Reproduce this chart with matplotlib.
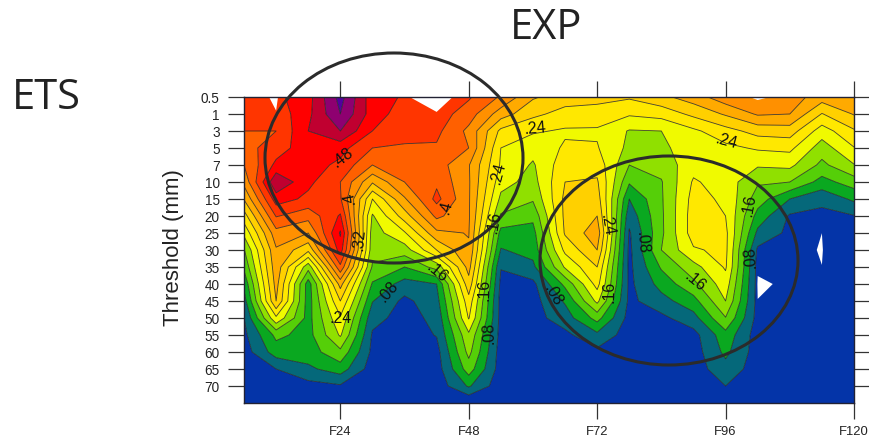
import numpy as np
import matplotlib
matplotlib.use('Agg')
import matplotlib.pyplot as plt
from matplotlib.patches import Ellipse

plt.rcParams['font.family'] = ['Liberation Sans', 'DejaVu Sans']

# threshold labels, the last data row below 70 has no label
thresholds = ['0.5', '1', '3', '5', '7', '10', '15', '20', '25', '30', '35', '40', '45', '50', '55', '60', '65', '70']
fcst_hours = [6, 12, 18, 24, 30, 36, 42, 48, 54, 60, 66, 72, 78, 84, 90, 96, 102, 108, 114, 120]
xtick_hours = [24, 48, 72, 96, 120]
xtick_labels = ['F24', 'F48', 'F72', 'F96', 'F120']

# ETS per forecast hour, top row to bottom row
f006 = [.46, .455, .44, .425, .40, .372, .323, .262, .21, .157, .128, .09, .063, .04, .03, .02, .02, .015, .01]
f012 = [.47, .455, .44, .46, .49, .555, .50, .443, .385, .355, .345, .335, .32, .232, .13, .10, .04, .03, .02]
f018 = [.505, .51, .52, .505, .50, .49, .47, .415, .36, .29, .175, .10, .10, .105, .105, .10, .072, .025, .015]
f024 = [.615, .60, .56, .495, .47, .44, .445, .485, .525, .50, .43, .335, .28, .235, .205, .15, .10, .035, .02]
f030 = [.496, .50, .48, .44, .40, .325, .24, .195, .18, .175, .155, .115, .082, .053, .035, .03, .02, .015, .01]
f036 = [.476, .46, .455, .435, .415, .40, .355, .30, .235, .18, .12, .063, .03, .025, .02, .02, .015, .01, .01]
f042 = [.47, .46, .45, .435, .42, .432, .452, .41, .35, .28, .175, .08, .065, .05, .042, .025, .02, .015, .01]
f048 = [.445, .42, .39, .40, .363, .365, .365, .365, .362, .355, .335, .305, .265, .243, .192, .172, .14, .085, 0.0]
f054 = [.395, .34, .27, .24, .235, .215, .19, .155, .105, .077, .042, .03, .025, .025, .025, .02, .02, .015, .01]
f060 = [.325, .29, .245, .215, .195, .185, .165, .13, .105, .095, .07, .03, .025, .025, .02, .02, .02, .015, .01]
f066 = [.30, .265, .235, .245, .265, .28, .29, .29, .285, .25, .205, .13, .085, .06, .03, .02, .02, .015, .01]
f072 = [.295, .26, .235, .243, .265, .285, .30, .32, .345, .32, .28, .255, .21, .135, .07, .03, .02, .015, .01]
f078 = [.285, .245, .197, .19, .16, .125, .08, .055, .035, .03, .03, .03, .03, .025, .02, .02, .02, .015, .01]
f084 = [.31, .255, .20, .19, .175, .157, .155, .153, .152, .16, .125, .095, .065, .03, .025, .02, .02, .015, .01]
f090 = [.34, .29, .232, .225, .225, .245, .255, .26, .26, .235, .185, .15, .105, .065, .025, .02, .02, .015, .01]
f096 = [.385, .325, .265, .23, .225, .222, .232, .24, .25, .25, .245, .222, .20, .158, .105, .09, .065, .04, .02]
f102 = [.385, .365, .295, .245, .205, .165, .14, .105, .07, .032, .025, .025, .025, .025, .02, .02, .02, .015, .01]
f108 = [.38, .36, .30, .25, .21, .16, .08, .035, .03, .03, .03, .03, .025, .025, .02, .02, .02, .015, .01]
f114 = [.34, .278, .22, .18, .15, .105, .05, .03, .02, .02, .02, .02, .02, .02, .02, .02, .02, .015, .01]
f120 = [.345, .323, .275, .238, .198, .14, .088, .038, .025, .02, .02, .02, .02, .02, .02, .02, .02, .015, .01]

# white gaps in the field: nonzero nodes of a helper field, white above 0.9
gap_hours = [12, 6, 18, 12, 42, 36, 48, 42, 102, 96, 108, 102, 102, 96, 108, 102, 102, 114, 108, 120, 114, 114]
gap_rows = [0, 0, 0, 1, 0, 0, 0, 1, 0, 0, 0, 1, 11, 11, 11, 10, 12, 9, 9, 9, 8, 10]
gap_vals = [1, .545, -.67, .875, 1, .881, .8, .886, 1, .6, .733, .44, 1, -10, .787, .787, .886, 1, .375, -2.2, .899, .886]

levels = [.04, .08, .12, .16, .20, .24, .28, .32, .36, .40, .44, .48, .52, .56, .60]
colors = ['#0434a8', '#05687a', '#0aa820', '#55cf08', '#90e000', '#f0fa00', '#ffe800', '#ffd000',
          '#ffaa00', '#ff9000', '#ff6000', '#ff3500', '#ff0000', '#c00030', '#8e0070', '#5000a0']

# contour labels as placed in the picture: text, x px, y px, rotation
label_text = ['.24', '.24', '.48', '.4', '.4', '.24', '.16', '.32', '.24', '.08', '.16', '.16', '.08', '.08', '.16', '.24', '.08', '.16', '.16', '.08']
label_x = [535, 726, 343, 349, 446, 498, 494, 359, 341, 388, 437, 484, 489, 553, 609, 607, 642, 695, 749, 750]
label_y = [129, 142, 158, 198, 207, 173, 222, 240, 318, 292, 273, 290, 333, 295, 292, 225, 243, 282, 205, 257]
label_rot = [5, -15, 38, 100, 75, 75, 80, 85, 0, 50, -40, 90, 92, -60, 90, -80, -85, -40, 80, 95]

ets = np.array([f006, f012, f018, f024, f030, f036, f042, f048, f054, f060,
                f066, f072, f078, f084, f090, f096, f102, f108, f114, f120]).T
rows = np.arange(ets.shape[0])

gaps = np.zeros(ets.shape)
for h, r, v in zip(gap_hours, gap_rows, gap_vals):
    gaps[r, fcst_hours.index(h)] = v

fig = plt.figure(figsize=(8.69, 4.44), dpi=100)
ax = fig.add_axes([244 / 869, (444 - 403) / 444, 610 / 869, 306 / 444])

ax.contourf(fcst_hours, rows, ets, levels=levels, colors=colors, extend='both', antialiased=True)
ax.contour(fcst_hours, rows, ets, levels=levels, colors='#222222', linewidths=0.6, alpha=0.85)
ax.contourf(fcst_hours, rows, gaps, levels=[.9, 20], colors='white', antialiased=True)

ax.set_xlim(fcst_hours[0], fcst_hours[-1])
ax.set_ylim(rows[-1], rows[0])
ax.set_xticks(xtick_hours)
ax.set_xticklabels(xtick_labels, fontsize=9.4)
ax.set_yticks(np.arange(len(thresholds)))
ax.set_yticklabels(thresholds, fontsize=9.8)
ax.tick_params(axis='both', direction='out', length=11.5, width=0.9, color='#333333', labelcolor='#222222',
               top=True, right=True, pad=5)
ax.tick_params(axis='y', pad=6)
for s in ax.spines.values():
    s.set_linewidth(1.0)
    s.set_color('#222233')

# overlay in pixel coordinates for the hand drawn marks and titles
over = fig.add_axes([0, 0, 1, 1], zorder=5)
over.set_xlim(0, 869)
over.set_ylim(444, 0)
over.axis('off')
over.patch.set_alpha(0)

over.add_patch(Ellipse((394, 158), 258, 210, fill=False, ec='#2b2b2b', lw=2.2))
over.add_patch(Ellipse((669, 260.5), 258, 209, fill=False, ec='#2b2b2b', lw=2.2))

for t, x, y, r in zip(label_text, label_x, label_y, label_rot):
    over.text(x, y, t, rotation=r, ha='center', va='center', fontsize=11.5, color='#111111',
              rotation_mode='anchor')

over.text(546, 28, 'EXP', family='Open Sans', fontsize=30, ha='center', va='center', color='#222222')
over.text(46, 98, 'ETS', family='Open Sans', fontsize=30, ha='center', va='center', color='#222222')
over.text(174, 248, 'Threshold (mm)', rotation=90, fontsize=16, ha='center', va='center', color='#222222')

fig.savefig('out.png', dpi=100)
